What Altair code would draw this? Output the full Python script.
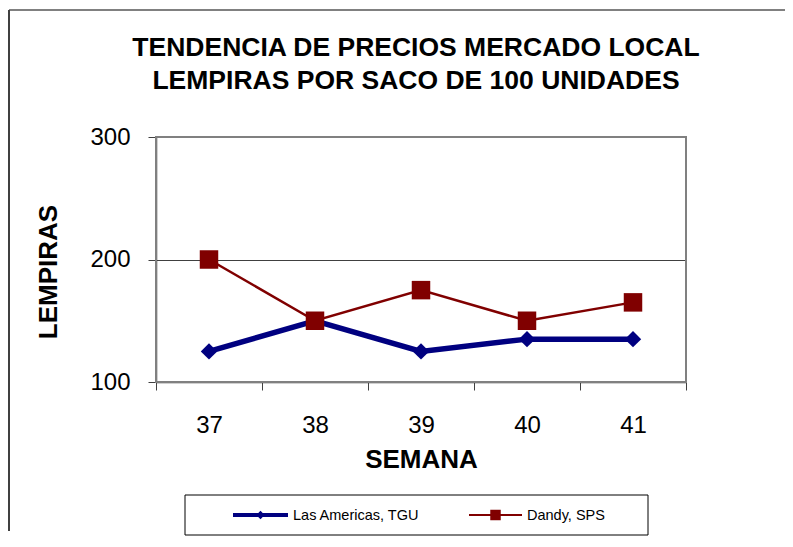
import altair as alt
import pandas as pd

# ---- data ----
weeks = [37, 38, 39, 40, 41]
las_americas = [125, 150, 125, 135, 135]
dandy = [200, 150, 175, 150, 165]
series_names = ["Las Americas, TGU", "Dandy, SPS"]
series_colors = ["#000080", "#800000"]
series_shapes = ["diamond", "square"]
title_lines = ["TENDENCIA DE PRECIOS MERCADO LOCAL", "LEMPIRAS POR SACO DE 100 UNIDADES"]
y_ticks = [100, 200, 300]
x_title = "SEMANA"
y_title = "LEMPIRAS"

FONT = "Liberation Sans"
PLOT_W, PLOT_H = 530, 245

df = pd.DataFrame({
    "semana": weeks * 2,
    "precio": las_americas + dandy,
    "serie": [series_names[0]] * len(weeks) + [series_names[1]] * len(weeks),
})

# category boundaries (Excel-style ticks between categories) + centers (labels)
bounds = [w - 0.5 for w in weeks] + [weeks[-1] + 0.5]
x_values = sorted(bounds + weeks)

x_enc = alt.X(
    "semana:Q",
    scale=alt.Scale(domain=[bounds[0], bounds[-1]], nice=False, zero=False),
    axis=alt.Axis(
        values=x_values,
        title=x_title,
        grid=False,
        labelExpr="datum.value % 1 == 0 ? format(datum.value, 'd') : ''",
        labelFlush=False,
        labelOverlap=False,
        labelBound=False,
        labelFont=FONT, labelFontSize=24, labelColor="black",
        labelBaseline="alphabetic", labelPadding=42,
        tickSize=8, tickColor="#404040", tickWidth=1,
        tickOpacity={"condition": {"test": "datum.value % 1 == 0", "value": 0}, "value": 1},
        domainColor="#404040", domainWidth=1.5,
        titleFont=FONT, titleFontSize=26, titleFontWeight="bold", titleColor="black",
        titleBaseline="alphabetic", titleY=85,
    ),
)
y_enc = alt.Y(
    "precio:Q",
    scale=alt.Scale(domain=[y_ticks[0], y_ticks[-1]], nice=False, zero=False),
    axis=alt.Axis(
        values=y_ticks,
        title=y_title,
        grid=True, gridColor="#404040", gridWidth=1,
        labelFont=FONT, labelFontSize=24, labelColor="black", labelPadding=18,
        tickSize=8, tickColor="#404040",
        domainColor="#404040", domainWidth=1.5,
        titleFont=FONT, titleFontSize=26, titleFontWeight="bold", titleColor="black",
        titleAngle=270, titleAlign="center", titleBaseline="alphabetic",
        titleX=-100, titleY=134.5,
    ),
)

color_scale = alt.Scale(domain=series_names, range=series_colors)
shape_scale = alt.Scale(domain=series_names, range=series_shapes)

base = alt.Chart(df)

lines = base.mark_line().encode(
    x=x_enc,
    y=y_enc,
    stroke=alt.Stroke("serie:N", scale=color_scale, legend=None),
    strokeWidth=alt.condition(alt.datum.serie == series_names[0], alt.value(5.5), alt.value(2.5)),
)

points = base.mark_point(filled=True, opacity=1).encode(
    x=x_enc,
    y=y_enc,
    color=alt.Color("serie:N", scale=color_scale, legend=None),
    shape=alt.Shape("serie:N", scale=shape_scale, legend=None),
    size=alt.condition(alt.datum.serie == series_names[0], alt.value(270), alt.value(342)),
)

# ---- Excel-style legend box (line + marker + label per series) ----
legend_layers = []
leg_y = 378
leg_geom = [  # line start, line end, marker center, label x, line width, marker size
    (77, 132, 104.5, 137, 4, 70),
    (313, 366, 339.5, 371, 2, 110),
]
for name, col, shp, (xa, xb, xc, xt, lw, ms) in zip(series_names, series_colors, series_shapes, leg_geom):
    ld = pd.DataFrame({"serie": [name]})
    legend_layers.append(
        alt.Chart(ld).mark_rule(color=col, strokeWidth=lw).encode(
            x=alt.value(xa), x2=alt.value(xb), y=alt.value(leg_y)
        )
    )
    legend_layers.append(
        alt.Chart(ld).mark_point(filled=True, opacity=1, color=col, shape=shp, size=ms).encode(
            x=alt.value(xc), y=alt.value(leg_y)
        )
    )
    legend_layers.append(
        alt.Chart(ld).mark_text(
            align="left", baseline="middle", font=FONT, fontSize=14.5, color="black"
        ).encode(x=alt.value(xt), y=alt.value(leg_y + 1), text="serie:N")
    )

deco = pd.DataFrame({"k": [0]})
# grey plot-area border (Excel plot area)
plot_border = alt.Chart(deco).mark_rect(fillOpacity=0, stroke="#808080", strokeWidth=2).encode(
    x=alt.value(0), x2=alt.value(PLOT_W), y=alt.value(0), y2=alt.value(PLOT_H)
)
legend_box = alt.Chart(deco).mark_rect(fillOpacity=0, stroke="black", strokeWidth=1).encode(
    x=alt.value(29), x2=alt.value(492), y=alt.value(358), y2=alt.value(398)
)
# outer slide frame: only its top and left edges fall inside the picture
frame_top = alt.Chart(deco).mark_rule(color="#808080", strokeWidth=2).encode(
    x=alt.value(-147), x2=alt.value(629), y=alt.value(-127)
)
frame_left = alt.Chart(deco).mark_rule(color="#404040", strokeWidth=2).encode(
    x=alt.value(-147), y=alt.value(-127), y2=alt.value(394)
)

chart = alt.layer(
    plot_border, frame_top, frame_left, legend_box, lines, points, *legend_layers
).properties(
    width=PLOT_W,
    height=PLOT_H,
    autosize=alt.AutoSizeParams(type="none"),
    padding={"left": 148, "top": 129, "right": 99, "bottom": 155},
    title=alt.TitleParams(
        text=title_lines,
        font=FONT, fontSize=26.5, fontWeight="bold", color="black",
        anchor="middle", lineHeight=33, baseline="alphabetic", offset=-106, dx=-5,
    ),
).configure_view(stroke="transparent")

chart.save("out.html", embed_options={"renderer": "svg", "actions": False})
